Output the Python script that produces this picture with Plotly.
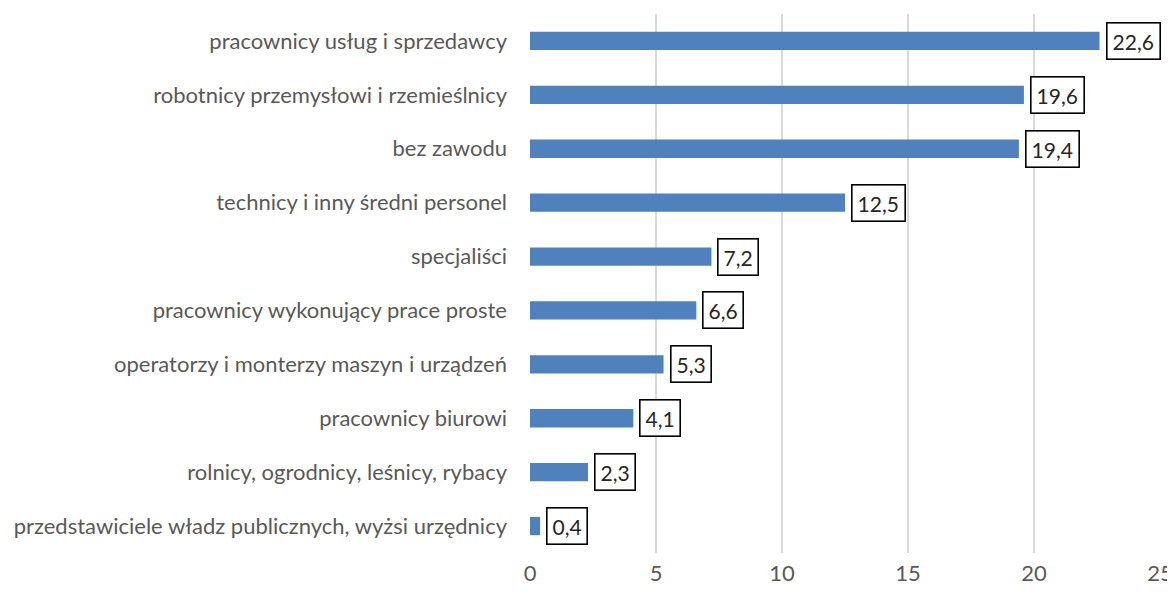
import plotly.graph_objects as go

categories = [
    "pracownicy usług i sprzedawcy",
    "robotnicy przemysłowi i rzemieślnicy",
    "bez zawodu",
    "technicy i inny średni personel",
    "specjaliści",
    "pracownicy wykonujący prace proste",
    "operatorzy i monterzy maszyn i urządzeń",
    "pracownicy biurowi",
    "rolnicy, ogrodnicy, leśnicy, rybacy",
    "przedstawiciele władz publicznych, wyżsi urzędnicy",
]
values = [22.6, 19.6, 19.4, 12.5, 7.2, 6.6, 5.3, 4.1, 2.3, 0.4]
x_ticks = [0, 5, 10, 15, 20, 25]

FONT = "Lato, Open Sans, sans-serif"
FS = 22

fig = go.Figure()
fig.add_trace(go.Bar(
    y=categories, x=values, orientation="h",
    marker=dict(color="#4F81BD", line=dict(width=0)),
    width=0.34,
))

for c, v in zip(categories, values):
    fig.add_annotation(
        x=v, y=c, xref="x", yref="y",
        text=f"{v:.1f}".replace(".", ","),
        showarrow=False, xanchor="left", xshift=6,
        font=dict(family=FONT, size=21, color="#262626"),
        bordercolor="#000000", borderwidth=1.6, borderpad=5,
        bgcolor="white",
    )

fig.update_layout(
    width=1167, height=577,
    margin=dict(l=522, r=15, t=6, b=32),
    plot_bgcolor="white", paper_bgcolor="white",
    showlegend=False,
    bargap=0.66,
)
fig.update_xaxes(
    range=[0, 25], tickvals=x_ticks, ticktext=[str(t) for t in x_ticks],
    showgrid=True, gridcolor="#D9D9D9", gridwidth=2,
    zeroline=False, showline=False, ticks="",
    ticklabelstandoff=5, ticklabeloverflow="allow",
    tickfont=dict(family=FONT, size=FS, color="#595959"),
    automargin=False,
)
fig.update_yaxes(
    categoryorder="array", categoryarray=categories[::-1],
    showgrid=False, zeroline=False, showline=False, ticks="",
    ticklabelstandoff=22,
    tickfont=dict(family=FONT, size=FS, color="#595959"),
    automargin=False,
)

fig.write_html("out.html")
